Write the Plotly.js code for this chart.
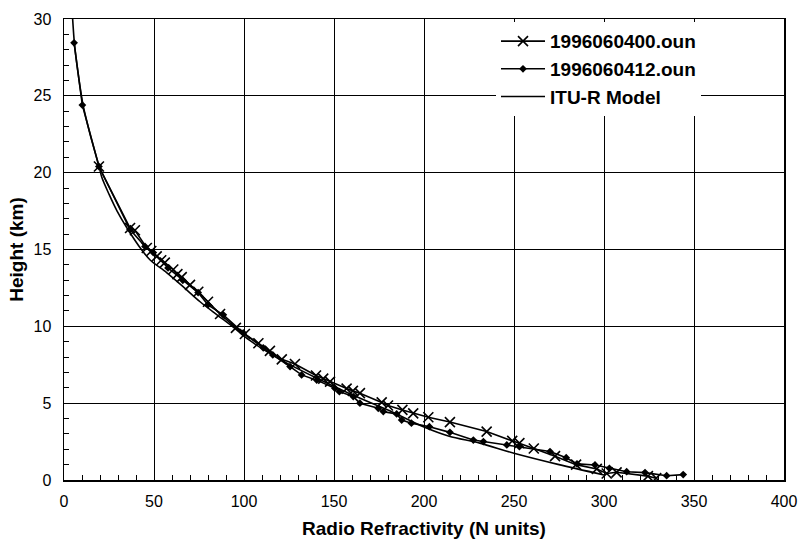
<!DOCTYPE html>
<html>
<head>
<meta charset="utf-8">
<script src="https://cdn.plot.ly/plotly-3.0.1.min.js"></script>
<style>html,body{margin:0;padding:0;background:#fff;}#chart{width:799px;height:541px;}</style>
</head>
<body>
<div id="chart"></div>
<script>
// 1996060400.oun sounding (N units, km)
var n00 = [19.4, 36.7, 39.4, 46.0, 48.5, 51.5, 54.0, 56.0, 60.7, 63.0, 65.4, 70.0, 74.6, 80.0, 86.7, 95.5, 100.5, 108.0, 114.4, 121.0, 128.3, 140.0, 144.0, 147.8, 157.0, 160.5, 164.4, 176.5, 180.0, 188.0, 194.0, 202.4, 214.4, 234.8, 249.0, 253.0, 261.0, 272.8, 284.5, 296.0, 301.5, 307.0, 324.4, 329.0];
var h00 = [20.4, 16.4, 16.25, 15.1, 14.9, 14.55, 14.3, 14.15, 13.7, 13.4, 13.2, 12.7, 12.25, 11.6, 10.8, 9.9, 9.5, 8.9, 8.4, 7.85, 7.55, 6.8, 6.6, 6.4, 5.95, 5.8, 5.65, 5.05, 4.85, 4.56, 4.34, 4.08, 3.77, 3.15, 2.55, 2.4, 2.05, 1.55, 1.0, 0.72, 0.42, 0.5, 0.25, 0.12];

// 1996060412.oun sounding
var n12 = [5.6, 10.2, 19.4, 36.7, 45.0, 49.6, 57.8, 66.0, 74.5, 80.0, 88.5, 99.6, 110.7, 116.0, 125.6, 132.0, 140.4, 150.5, 153.0, 160.7, 164.4, 174.6, 177.4, 184.8, 187.6, 193.0, 203.0, 214.4, 227.4, 233.0, 246.0, 253.0, 270.0, 279.0, 285.0, 295.0, 303.0, 312.6, 322.8, 334.8, 344.0];
var h12 = [28.45, 24.4, 20.4, 16.3, 15.2, 14.8, 13.8, 13.0, 12.2, 11.4, 10.75, 9.57, 8.6, 8.14, 7.38, 6.84, 6.5, 5.97, 5.75, 5.43, 5.0, 4.67, 4.45, 4.3, 3.9, 3.7, 3.47, 3.1, 2.6, 2.5, 2.28, 2.17, 1.85, 1.45, 1.05, 0.98, 0.76, 0.54, 0.48, 0.28, 0.35];

// ITU-R model curve
var nItu = [300, 275, 250, 231, 214, 200, 181, 160, 140, 120, 103, 94, 85, 75.6, 66, 57, 48, 43, 35, 29.5, 25, 21, 19.5, 14.5, 10.6, 7.8, 5.8, 4.8];
var hItu = [0.33, 1.0, 1.74, 2.4, 2.85, 3.45, 4.5, 5.55, 6.65, 7.85, 9.1, 9.95, 10.75, 11.6, 12.6, 13.5, 14.3, 15.0, 16.4, 17.5, 18.6, 19.7, 20.4, 22.5, 24.4, 26.5, 28.4, 30.0];

var xTicks = [0, 50, 100, 150, 200, 250, 300, 350, 400];
var yTicks = [0, 5, 10, 15, 20, 25, 30];

var FONT = 'Arial, "Liberation Sans", Helvetica, sans-serif';

var traces = [
  {x: n00, y: h00, name: '1996060400.oun', mode: 'lines+markers',
   line: {color: '#000', width: 1.6},
   marker: {symbol: 'x-thin-open', size: 10, color: '#000', line: {color: '#000', width: 1.6}}},
  {x: n12, y: h12, name: '1996060412.oun', mode: 'lines+markers',
   line: {color: '#000', width: 1.6},
   marker: {symbol: 'diamond', size: 6, color: '#000'}},
  {x: nItu, y: hItu, name: 'ITU-R Model', mode: 'lines',
   line: {color: '#000', width: 1.6, shape: 'spline', smoothing: 0.8}}
];

var layout = {
  width: 799, height: 541,
  margin: {l: 64, r: 15, t: 19, b: 61},
  paper_bgcolor: '#fff', plot_bgcolor: '#fff',
  font: {family: FONT, size: 16, color: '#000'},
  showlegend: true,
  legend: {
    x: 0.6, y: 0.993, xanchor: 'left', yanchor: 'top',
    bgcolor: '#fff', borderwidth: 0,
    font: {family: FONT, size: 19, color: '#000', weight: 'bold'},
    itemwidth: 44, tracegroupgap: 0
  },
  xaxis: {
    range: [0, 400], tickvals: xTicks, ticktext: xTicks.map(String),
    showgrid: true, gridcolor: '#000', gridwidth: 1,
    showline: true, linecolor: '#000', linewidth: 1.5, mirror: true,
    ticks: 'inside', ticklen: 5, tickcolor: '#000',
    minor: {dtick: 10, ticks: 'inside', ticklen: 5, tickcolor: '#000', showgrid: false},
    zeroline: false, ticklabelstandoff: 6,
    tickfont: {family: FONT, size: 16},
    title: {text: 'Radio Refractivity (N units)', font: {family: FONT, size: 19, weight: 'bold'}, standoff: 13}
  },
  yaxis: {
    range: [0, 30], tickvals: yTicks, ticktext: yTicks.map(String),
    showgrid: true, gridcolor: '#000', gridwidth: 1,
    showline: true, linecolor: '#000', linewidth: 1.5, mirror: true,
    ticks: 'inside', ticklen: 5, tickcolor: '#000',
    minor: {dtick: 1, ticks: 'inside', ticklen: 5, tickcolor: '#000', showgrid: false},
    zeroline: false, ticklabelstandoff: 8,
    tickfont: {family: FONT, size: 16},
    title: {text: 'Height (km)', font: {family: FONT, size: 19, weight: 'bold'}, standoff: 5}
  }
};

Plotly.newPlot('chart', traces, layout, {displayModeBar: false, staticPlot: true});
</script>
</body>
</html>
